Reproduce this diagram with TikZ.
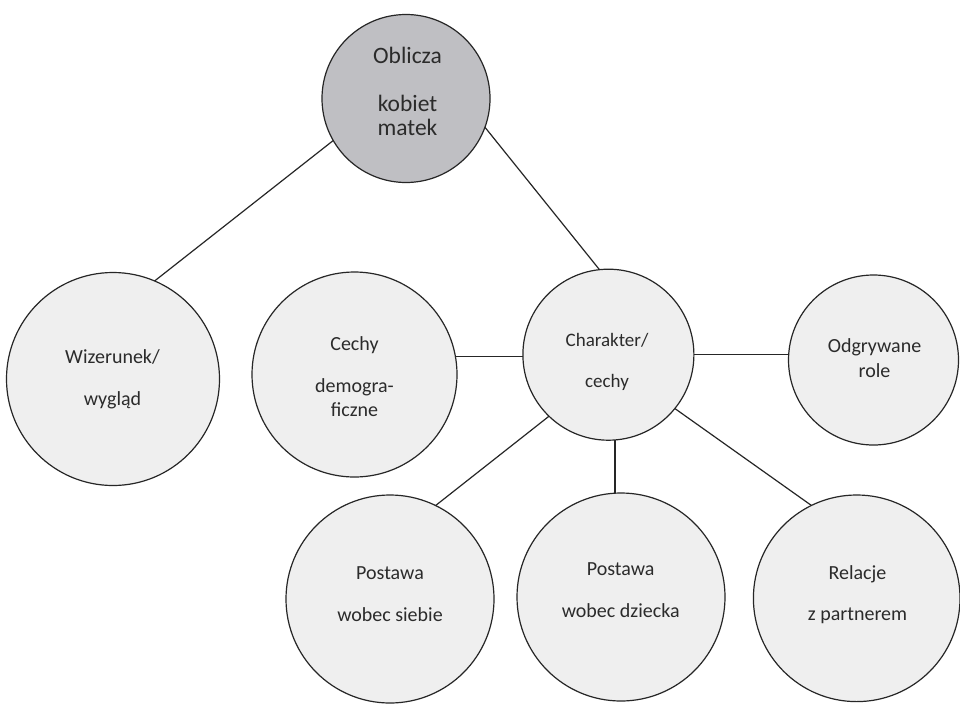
\documentclass[tikz,border=0pt]{standalone}
\usepackage{fontspec}
\setmainfont{Carlito}
\definecolor{edgec}{HTML}{262626}
\definecolor{bubc}{HTML}{EFEFEF}
\definecolor{topc}{HTML}{BFBFC3}
\definecolor{txtc}{HTML}{2B2B2B}
\begin{document}
\begin{tikzpicture}[x=1pt,y=-1pt,
  bub/.style={circle,draw=edgec,line width=1.2pt,fill=bubc,inner sep=0pt,outer sep=0pt},
  con/.style={draw=edgec,line width=1.2pt},
  lbl/.style={anchor=base,text=txtc,font=\fontsize{20}{24}\selectfont,inner sep=0pt},
  toplbl/.style={lbl,font=\fontsize{23.5}{28}\selectfont}]
\useasboundingbox[fill=white] (0,0) rectangle (960,707);
% circles
\node[bub,fill=topc,minimum size=168pt] (ob) at (406,98.5) {};
\node[bub,minimum size=213pt] (wz) at (113,379) {};
\node[bub,minimum size=205pt] (ce) at (354.5,374.5) {};
\node[bub,minimum size=171pt] (ch) at (608.4,354.7) {};
\node[bub,minimum size=170pt] (od) at (873.5,360) {};
\node[bub,minimum size=208pt] (ps) at (390,599) {};
\node[bub,minimum size=208pt] (pd) at (621,597) {};
\node[bub,minimum size=206.6pt] (rp) at (856.7,598.3) {};
% connectors
\draw[con] (ob.-150.8) -- (wz.67);
\draw[con] (ob.-20) -- (ch.96.8);
\draw[con] (ce.10) -- (ce.10 -| ch.west);
\draw[con] (ch.east) -- (ch.east -| od.west);
\draw[con] (ch.-134.1) -- (ps.64.2);
\draw[con] ([xshift=6.6pt]ch.south) -- ([xshift=6.6pt]ch.south |- pd.north);
\draw[con] (ch.-39.3) -- (rp.116.1);
% labels
\node[toplbl] (t1a) at (407.5,63.3) {Oblicza};
\node[toplbl] (t1b) at (407.5,111.7) {kobiet};
\node[toplbl] (t1c) at (407.5,135) {matek};
\node[lbl] (t2a) at (112.5,363.3) {Wizerunek/};
\node[lbl] (t2b) at (112.5,405) {wygląd};
\node[lbl] (t3a) at (354.5,350.7) {Cechy};
\node[lbl] (t3b) at (354.5,392.7) {demogra-};
\node[lbl] (t3c) at (354.5,416.7) {ficzne};
\node[lbl,font=\fontsize{19}{23}\selectfont] (t4a) at (607,346.7) {Charakter/};
\node[lbl,font=\fontsize{19}{23}\selectfont] (t4b) at (607,387.7) {cechy};
\node[lbl] (t5a) at (874.5,352.7) {Odgrywane};
\node[lbl] (t5b) at (874.5,377.3) {role};
\node[lbl] (t6a) at (390,579.3) {Postawa};
\node[lbl] (t6b) at (390,621.7) {wobec siebie};
\node[lbl] (t7a) at (620.7,575.7) {Postawa};
\node[lbl] (t7b) at (620.7,617.3) {wobec dziecka};
\node[lbl] (t8a) at (857.5,579) {Relacje};
\node[lbl] (t8b) at (857.5,620) {z partnerem};
\end{tikzpicture}
\end{document}
